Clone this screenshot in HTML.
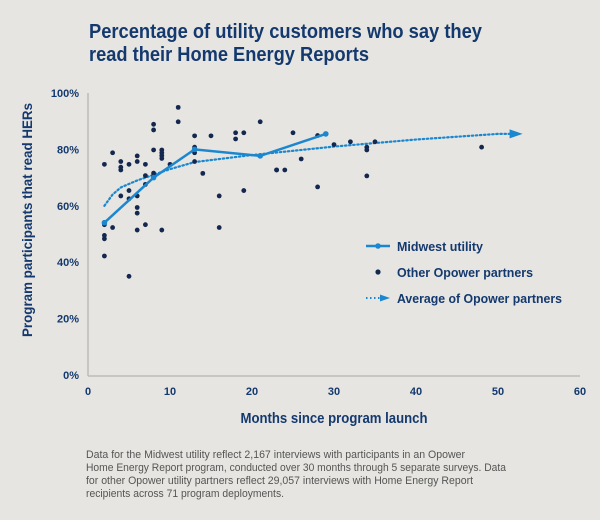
<!DOCTYPE html>
<html><head><meta charset="utf-8"><style>
html,body{margin:0;padding:0;background:#e6e5e1;}
svg{display:block;font-family:"Liberation Sans",sans-serif;}
</style></head><body>
<svg id="chart" width="600" height="520" viewBox="0 0 600 520">
<rect width="600" height="520" fill="#e6e5e1"/>
<text x="89" y="38" font-size="20" font-weight="bold" fill="#14396e" textLength="393" lengthAdjust="spacingAndGlyphs">Percentage of utility customers who say they</text>
<text x="89" y="61" font-size="20" font-weight="bold" fill="#14396e" textLength="280" lengthAdjust="spacingAndGlyphs">read their Home Energy Reports</text>
<text transform="translate(32,220) rotate(-90)" text-anchor="middle" font-size="14" font-weight="bold" fill="#14396e" textLength="234" lengthAdjust="spacingAndGlyphs">Program participants that read HERs</text>
<text x="334" y="423" text-anchor="middle" font-size="15" font-weight="bold" fill="#14396e" textLength="187" lengthAdjust="spacingAndGlyphs">Months since program launch</text>
<g id="axes"></g>
<g id="marks"></g>
<g>
 <g>
  <line x1="366" y1="246" x2="390" y2="246" stroke="#1a87cf" stroke-width="2.5"/>
  <circle cx="378" cy="246" r="2.8" fill="#1a87cf"/>
  <text x="397" y="251" font-size="13" font-weight="bold" fill="#14396e" textLength="86" lengthAdjust="spacingAndGlyphs">Midwest utility</text>
 </g>
 <g>
  <circle cx="378" cy="272" r="2.6" fill="#14284f"/>
  <text x="397" y="277" font-size="13" font-weight="bold" fill="#14396e" textLength="136" lengthAdjust="spacingAndGlyphs">Other Opower partners</text>
 </g>
 <g>
  <line x1="366" y1="298" x2="380" y2="298" stroke="#1a87cf" stroke-width="2" stroke-dasharray="1.5 2.5"/>
  <polygon points="380,294.5 390,298 380,301.5" fill="#1a87cf"/>
  <text x="397" y="303" font-size="13" font-weight="bold" fill="#14396e" textLength="165" lengthAdjust="spacingAndGlyphs">Average of Opower partners</text>
 </g>
</g>
<g font-size="11" fill="#555">
<text x="86" y="458" textLength="379" lengthAdjust="spacingAndGlyphs">Data for the Midwest utility reflect 2,167 interviews with participants in an Opower</text>
<text x="86" y="471" textLength="420" lengthAdjust="spacingAndGlyphs">Home Energy Report program, conducted over 30 months through 5 separate surveys. Data</text>
<text x="86" y="484" textLength="387" lengthAdjust="spacingAndGlyphs">for other Opower utility partners reflect 29,057 interviews with Home Energy Report</text>
<text x="86" y="497" textLength="198" lengthAdjust="spacingAndGlyphs">recipients across 71 program deployments.</text>
</g>
</svg>
<script>
const xTicks = [0,10,20,30,40,50,60];
const yTicks = [0,20,40,60,80,100];
const otherMonths = [2,3,4,4,4,5,6,6,7,8,8,11,11,8,9,9,9,9,10,13,13,13,13,15,14,18,18,19,21,23,7,7,8,8,3,2,2,2,2,4,5,5,6,6,6,6,7,9,5,16,16,19,21,25,28,26,23,24,28,30,32,34,34,35,34,48];
const otherValues = [74.7,78.8,75.7,73.7,72.7,74.7,77.7,75.7,74.7,88.9,86.9,94.9,89.8,79.8,79.8,78.8,77.8,76.8,74.7,84.8,80.8,78.8,75.7,84.8,71.5,85.9,83.7,85.9,89.8,72.7,70.7,67.6,71.6,70.7,52.3,53.3,49.5,48.3,42.2,63.5,65.4,62.5,63.5,59.4,57.4,51.4,53.3,51.4,35.0,63.5,52.3,65.4,77.7,85.9,84.9,76.6,72.7,72.7,66.7,81.7,82.7,80.8,79.8,82.7,70.6,80.8];
const midwestMonths = [2,8,13,21,29];
const midwestValues = [54,70,80,77.7,85.5];
const avgMonths = [2,3,4,6,8,10,13,20,30,40,50];
const avgValues = [60,64,66.5,69,71,73,75.5,78,81,83.5,85.5];
const arrowEndMonth = 53;

const NS='http://www.w3.org/2000/svg';
const xs = m => 88 + m*8.2;
const ys = v => 375 - v*2.82;
const axes=document.getElementById('axes'), marks=document.getElementById('marks');
function mk(tag,attrs,parent){const e=document.createElementNS(NS,tag);for(const k in attrs)e.setAttribute(k,attrs[k]);parent.appendChild(e);return e;}

const yl=mk('line',{x1:88,y1:ys(100),x2:88,y2:376,stroke:'#bdbcb8','stroke-width':1.5},axes);


const xl=mk('line',{x1:88,y1:376,x2:580,y2:376,stroke:'#bdbcb8','stroke-width':1.5},axes);


xTicks.forEach(t=>{
  const e=mk('text',{x:xs(t),y:395,'text-anchor':'middle','font-size':11,'font-weight':'bold',fill:'#14396e'},axes);
  e.textContent=t;
  
  
});
yTicks.forEach(t=>{
  const e=mk('text',{x:79,y:ys(t)+4,'text-anchor':'end','font-size':11,'font-weight':'bold',fill:'#14396e'},axes);
  e.textContent=t+'%';
  
  
});
let d='';avgMonths.forEach((m,i)=>{d+=(i?'L':'M')+xs(m)+','+ys(avgValues[i]);});
const last=avgValues[avgValues.length-1];
d+='L'+xs(arrowEndMonth-1.5)+','+ys(last);
const av=mk('path',{d:d,fill:'none',stroke:'#1a87cf','stroke-width':2.2,'stroke-dasharray':'1.5 2.6','stroke-linecap':'round'},marks);


const ax=xs(arrowEndMonth), ay=ys(last);
const ar=mk('polygon',{points:(ax-13)+','+(ay-4.5)+' '+ax+','+ay+' '+(ax-13)+','+(ay+4.5),fill:'#1a87cf'},marks);


otherMonths.forEach((m,i)=>{
  const c=mk('circle',{cx:xs(m),cy:ys(otherValues[i]),r:2.4,fill:'#14284f'},marks);
  
  
});
let d2='';midwestMonths.forEach((m,i)=>{d2+=(i?'L':'M')+xs(m)+','+ys(midwestValues[i]);});
const mw=mk('path',{d:d2,fill:'none',stroke:'#1a87cf','stroke-width':2.5},marks);


midwestMonths.forEach((m,i)=>{
  const c=mk('circle',{cx:xs(m),cy:ys(midwestValues[i]),r:2.8,fill:'#1a87cf'},marks);
  
  
});
</script>
</body></html>
